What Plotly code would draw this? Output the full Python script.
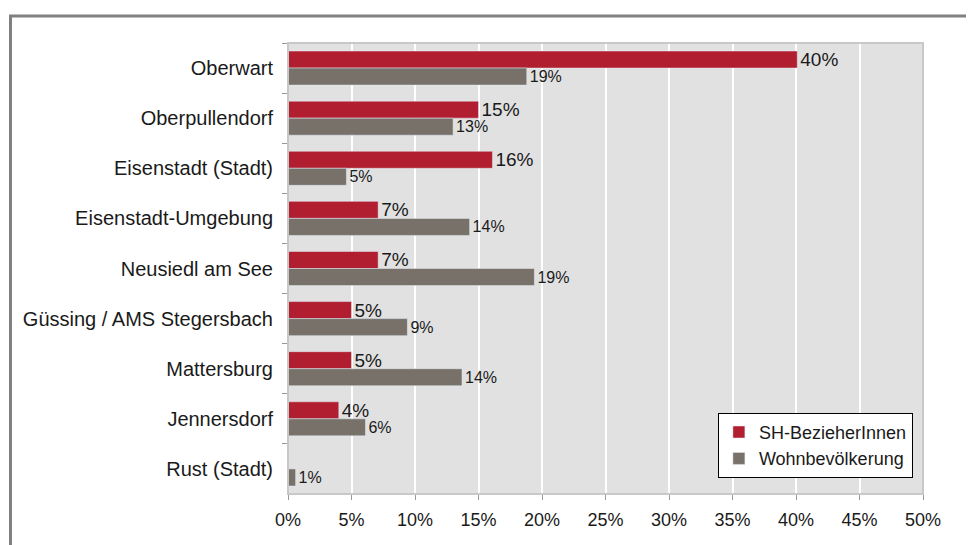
import plotly.graph_objects as go

# Bezirke (von oben nach unten)
bezirke = ["Oberwart", "Oberpullendorf", "Eisenstadt (Stadt)", "Eisenstadt-Umgebung",
           "Neusiedl am See", "Güssing / AMS Stegersbach", "Mattersburg",
           "Jennersdorf", "Rust (Stadt)"]
sh_bezieher = [0.401, 0.150, 0.161, 0.071, 0.071, 0.050, 0.050, 0.040, 0.0]
wohnbevoelkerung = [0.188, 0.130, 0.046, 0.143, 0.194, 0.094, 0.137, 0.061, 0.006]
x_ticks = [0, 0.05, 0.10, 0.15, 0.20, 0.25, 0.30, 0.35, 0.40, 0.45, 0.50]


def labels(vals):
    return [f"{round(v * 100):.0f}%" if v > 0 else "" for v in vals]


fig = go.Figure()
fig.add_trace(go.Bar(
    y=bezirke, x=sh_bezieher, orientation="h", name="SH-BezieherInnen",
    marker_color="#b11e2f", text=labels(sh_bezieher), textposition="outside",
    textfont=dict(size=19, color="#1a1a1a"), cliponaxis=False, constraintext="none",
))
fig.add_trace(go.Bar(
    y=bezirke, x=wohnbevoelkerung, orientation="h", name="Wohnbevölkerung",
    marker_color="#77716a", text=labels(wohnbevoelkerung), textposition="outside",
    textfont=dict(size=16, color="#1a1a1a"), cliponaxis=False, constraintext="none",
))

# Rahmen der Zeichenfläche (hellgrau) und äußerer grauer Rahmen
fig.add_shape(type="rect", xref="paper", yref="paper", x0=0, x1=1, y0=0, y1=1,
              line=dict(color="#c8c8c8", width=2), fillcolor="rgba(0,0,0,0)")
fig.add_shape(type="rect", xref="paper", yref="paper",
              x0=-0.437, x1=1.2, y0=-0.2, y1=1.06,
              line=dict(color="#808080", width=3), fillcolor="rgba(0,0,0,0)")

# die Seite hat 8px Rand, daher 966x537
fig.update_layout(
    width=966, height=537,
    margin=dict(l=280, r=51, t=35, b=51),
    paper_bgcolor="white", plot_bgcolor="#e1e1e1",
    font=dict(family="Liberation Sans, Arial, sans-serif", size=18, color="#1a1a1a"),
    barmode="group", bargap=0.32, bargroupgap=0,
    showlegend=True,
    legend=dict(x=0.677, y=0.18, xanchor="left", yanchor="top",
                bgcolor="white", bordercolor="#000000", borderwidth=1,
                font=dict(size=18), traceorder="normal",
                itemwidth=30, tracegroupgap=0),
)
fig.update_xaxes(
    range=[0, 0.5], tickvals=x_ticks, tickformat=".0%",
    showgrid=True, gridcolor="white", gridwidth=1.5,
    ticks="outside", ticklen=5, tickcolor="#999999",
    showline=True, linecolor="#999999", zeroline=False,
    ticklabelstandoff=4, tickfont=dict(size=18),
)
fig.update_yaxes(
    autorange="reversed", type="category",
    ticks="outside", ticklen=5, tickcolor="#999999", tickson="boundaries",
    showline=True, linecolor="#999999", showgrid=False,
    ticklabelstandoff=10, tickfont=dict(size=20),
)

fig.write_html("out.html")
